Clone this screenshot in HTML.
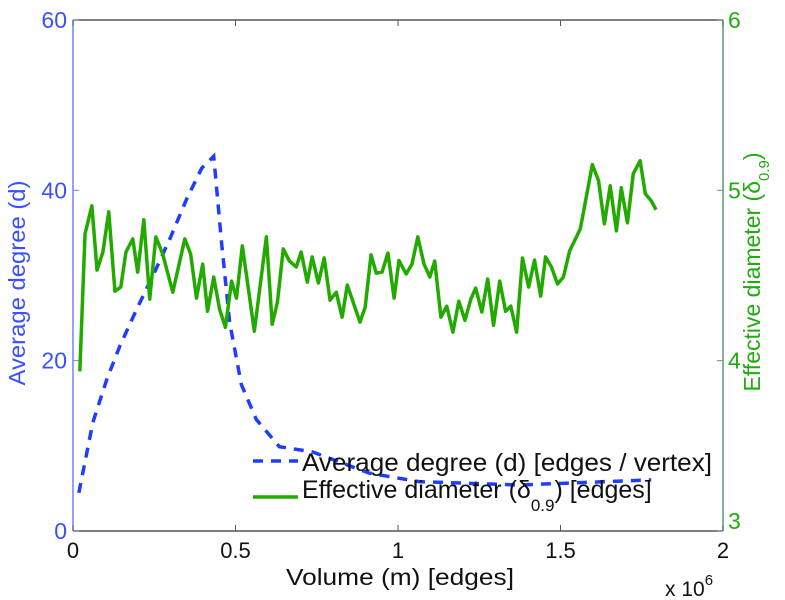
<!DOCTYPE html>
<html><head><meta charset="utf-8"><style>
body{margin:0;background:#fff;}
svg{display:block;font-family:"Liberation Sans",sans-serif;}
</style></head><body>
<svg id="chart" width="785" height="600" viewBox="0 0 785 600" xmlns="http://www.w3.org/2000/svg"></svg>
<script>
const degX=[0.018,0.061,0.104,0.144,0.196,0.245,0.298,0.350,0.396,0.433,0.457,0.482,0.518,0.564,0.635,0.736,0.911,1.064,1.371,1.779];
const degY=[4.48,12.73,17.8,21.7,26.05,29.9,34.3,39.0,42.6,44.0,33.9,24.5,17.2,13.1,9.9,9.3,6.8,5.8,5.4,6.0];
const diamX=[0.021,0.037,0.058,0.074,0.092,0.110,0.129,0.147,0.163,0.184,0.199,0.218,0.236,0.255,0.276,0.307,0.344,0.362,0.380,0.399,0.414,0.433,0.451,0.469,0.488,0.503,0.521,0.558,0.595,0.613,0.629,0.647,0.666,0.687,0.702,0.721,0.736,0.755,0.773,0.791,0.810,0.828,0.844,0.883,0.899,0.917,0.933,0.951,0.969,0.988,1.003,1.025,1.043,1.061,1.080,1.098,1.113,1.132,1.150,1.169,1.187,1.206,1.224,1.239,1.258,1.276,1.294,1.313,1.331,1.347,1.365,1.383,1.402,1.420,1.439,1.454,1.472,1.491,1.509,1.528,1.561,1.598,1.617,1.635,1.653,1.672,1.687,1.706,1.724,1.745,1.761,1.779,1.794];
const diamY=[3.937,4.744,4.909,4.532,4.638,4.874,4.408,4.432,4.638,4.715,4.520,4.827,4.361,4.727,4.626,4.402,4.715,4.626,4.367,4.567,4.290,4.491,4.302,4.196,4.467,4.367,4.674,4.173,4.727,4.214,4.344,4.656,4.585,4.550,4.638,4.461,4.609,4.456,4.603,4.355,4.402,4.255,4.444,4.226,4.314,4.621,4.514,4.520,4.632,4.367,4.588,4.509,4.567,4.727,4.567,4.491,4.585,4.255,4.320,4.167,4.349,4.237,4.361,4.426,4.285,4.479,4.208,4.467,4.290,4.320,4.167,4.603,4.432,4.591,4.379,4.609,4.550,4.450,4.491,4.644,4.774,5.151,5.057,4.803,5.027,4.762,5.015,4.809,5.098,5.174,4.980,4.939,4.886];
const xTicks=[0,0.5,1,1.5,2];
const xTickLabels=["0","0.5","1","1.5","2"];
const yLTicks=[0,20,40,60];
const yRTicks=[3,4,5,6];

const L=73,R=723,T=20,B=531;
const sx=v=>L+(v-0)/(2-0)*(R-L);
const syL=v=>B-(v-0)/(60-0)*(B-T);
const syR=v=>B-(v-3)/(6-3)*(B-T);
const svg=document.getElementById('chart');
const NS='http://www.w3.org/2000/svg';
function mk(tag,attrs,parent){const e=document.createElementNS(NS,tag);for(const k in attrs)e.setAttribute(k,attrs[k]);(parent||svg).appendChild(e);return e;}

let e=mk('line',{x1:L,y1:T,x2:R,y2:T,stroke:'#555','stroke-width':1.5});


e=mk('line',{x1:L,y1:B,x2:R,y2:B,stroke:'#555','stroke-width':1.5});


e=mk('line',{x1:L,y1:T,x2:L,y2:B,stroke:'#7080ff','stroke-width':1.5});


e=mk('line',{x1:R,y1:T,x2:R,y2:B,stroke:'#5a9a7a','stroke-width':1.5});



xTicks.forEach((v,i)=>{
  const x=sx(v);
  let t=mk('line',{x1:x,y1:B,x2:x,y2:B-6,stroke:'#555','stroke-width':1});
  
  
  t=mk('line',{x1:x,y1:T,x2:x,y2:T+6,stroke:'#555','stroke-width':1});
  
  
  const lb=mk('text',{x:x,y:B+27,'font-size':22,'text-anchor':'middle',fill:'#111'});
  lb.textContent=xTickLabels[i];
  
  
});
yLTicks.forEach(v=>{
  const y=syL(v);
  const t=mk('line',{x1:L,y1:y,x2:L+6,y2:y,stroke:'#7080ff','stroke-width':1});
  
  
  const lb=mk('text',{x:L-6,y:y+8,'font-size':23,'text-anchor':'end',fill:'#3a50ff'});
  lb.textContent=String(v);
  
  
});
yRTicks.forEach(v=>{
  const y=syR(v);
  const t=mk('line',{x1:R,y1:y,x2:R-6,y2:y,stroke:'#5a9a7a','stroke-width':1});
  
  
  const lb=mk('text',{x:R+5,y:y+(v===3?-2:8),'font-size':23,'text-anchor':'start',fill:'#22aa11'});
  lb.textContent=String(v);
  
  
});

let g=mk('polyline',{points:degX.map((x,i)=>sx(x)+','+syL(degY[i])).join(' '),fill:'none',stroke:'#1f3dff','stroke-width':3.5,'stroke-dasharray':'10,8'});


g=mk('polyline',{points:diamX.map((x,i)=>sx(x)+','+syR(diamY[i])).join(' '),fill:'none',stroke:'#22aa00','stroke-width':3.5,'stroke-linejoin':'round'});



g=mk('line',{x1:253,y1:461,x2:298,y2:461,stroke:'#1f3dff','stroke-width':3.5,'stroke-dasharray':'10,8'});


g=mk('text',{x:302,y:471,'font-size':25,fill:'#111',textLength:410,lengthAdjust:'spacingAndGlyphs'});
g.textContent='Average degree (d) [edges / vertex]';


g=mk('line',{x1:253,y1:497,x2:298,y2:497,stroke:'#22aa00','stroke-width':3.5});


g=mk('text',{x:302,y:498,'font-size':25,fill:'#111'});
g.innerHTML='Effective diameter (δ<tspan font-size="17" dy="13">0.9</tspan><tspan dy="-13">) [edges]</tspan>';



g=mk('text',{x:400,y:585,'font-size':23,'text-anchor':'middle',fill:'#111',textLength:228,lengthAdjust:'spacingAndGlyphs'});
g.textContent='Volume (m) [edges]';


g=mk('text',{x:665,y:596,'font-size':21,fill:'#111'});
g.innerHTML='x 10<tspan font-size="15" dy="-11">6</tspan>';


g=mk('text',{x:0,y:0,'font-size':23,'text-anchor':'middle',fill:'#3a50ff',transform:'translate(25,283) rotate(-90)',textLength:205,lengthAdjust:'spacingAndGlyphs'});
g.textContent='Average degree (d)';


g=mk('text',{x:0,y:0,'font-size':23,'text-anchor':'middle',fill:'#22aa11',transform:'translate(760,272) rotate(-90)'});
g.innerHTML='Effective diameter (δ<tspan font-size="15" dy="9">0.9</tspan><tspan dy="-9">)</tspan>';


</script>
</body></html>
